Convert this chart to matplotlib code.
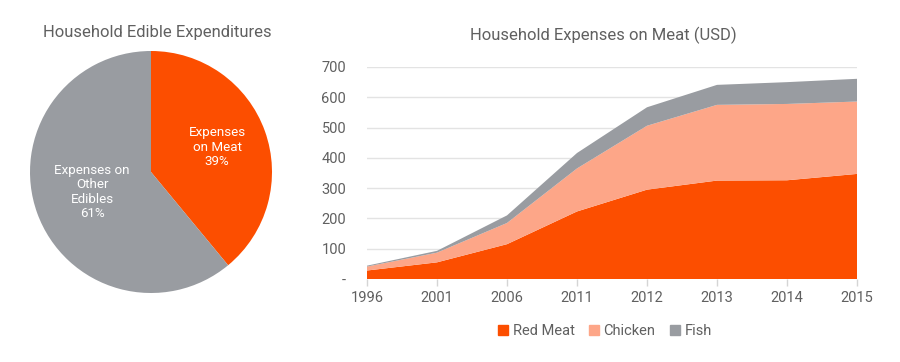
import matplotlib
matplotlib.use("Agg")
import matplotlib.pyplot as plt
from matplotlib.patches import Patch
import numpy as np

plt.rcParams['font.family'] = ['Roboto', 'DejaVu Sans']

# Pie data
pie_labels = ["Expenses\non Meat", "Expenses on\nOther\nEdibles"]
pie_values = [39, 61]

# Area data
years = ["1996", "2001", "2006", "2011", "2012", "2013", "2014", "2015"]
red_meat = [28, 55, 115, 223, 295, 325, 326, 347]
chicken = [13, 32, 70, 142, 211, 250, 252, 239]
fish = [3, 6, 25, 51, 61, 66, 72, 75]
series_names = ["Red Meat", "Chicken", "Fish"]
y_ticks = [0, 100, 200, 300, 400, 500, 600, 700]
y_tick_labels = ["-", "100", "200", "300", "400", "500", "600", "700"]

ORANGE = "#FC4E00"
SALMON = "#FDA688"
GRAY = "#999CA1"
TEXT = "#606060"

fig = plt.figure(figsize=(9, 3.62), dpi=100)

# Pie chart
axp = fig.add_axes([30/900, (362-293)/362, 242/900, 242/362])
wedges, _ = axp.pie(pie_values, colors=[ORANGE, GRAY], startangle=90,
                    counterclock=False, radius=1, labels=None,
                    wedgeprops=dict(linewidth=0))
for w, lab, v in zip(wedges, pie_labels, pie_values):
    ang = np.deg2rad((w.theta1 + w.theta2) / 2)
    r = 0.55
    axp.text(r*np.cos(ang) + 0.03, r*np.sin(ang) + 0.02, f"{lab}\n{v}%", ha="center",
             va="center", color="white", fontsize=9.6, linespacing=1.15)
axp.set_xlim(-1, 1)
axp.set_ylim(-1, 1)
axp.set_aspect("equal")
fig.text(157/900, 1 - 32/362, "Household Edible Expenditures", ha="center",
         va="center", fontsize=12.0, color=TEXT)

# Stacked area chart
ax = fig.add_axes([367/900, 1 - 279/362, (857-367)/900, (279-67)/362])
x = np.arange(len(years))
ax.stackplot(x, red_meat, chicken, fish, colors=[ORANGE, SALMON, GRAY],
             labels=series_names, linewidth=0, zorder=2)
ax.set_xlim(0, len(years) - 1)
ax.set_ylim(0, 700)
ax.set_xticks(x)
ax.set_xticklabels(years)
ax.set_yticks(y_ticks)
ax.set_yticklabels(y_tick_labels)
ax.tick_params(length=0, labelsize=10.5, colors=TEXT, labelcolor=TEXT)
ax.tick_params(axis="x", length=5, color="#D5D5D5", width=1, pad=4)
ax.tick_params(axis="y", pad=15)
for s in ax.spines.values():
    s.set_visible(False)
ax.yaxis.grid(True, color="#E3E3E3", linewidth=1, zorder=0)
ax.set_axisbelow(True)
fig.text(603/900, 1 - 35/362, "Household Expenses on Meat (USD)", ha="center",
         va="center", fontsize=12.0, color=TEXT)

handles = [Patch(color=c, label=n) for c, n in zip([ORANGE, SALMON, GRAY], series_names)]
fig.legend(handles=handles, loc="center", bbox_to_anchor=(605/900, 1 - 331/362),
           ncol=3, frameon=False, handlelength=0.7, handleheight=0.7,
           handletextpad=0.3, columnspacing=1.0, fontsize=10.5, labelcolor=TEXT)

fig.savefig("out.png", dpi=100, facecolor="white")
